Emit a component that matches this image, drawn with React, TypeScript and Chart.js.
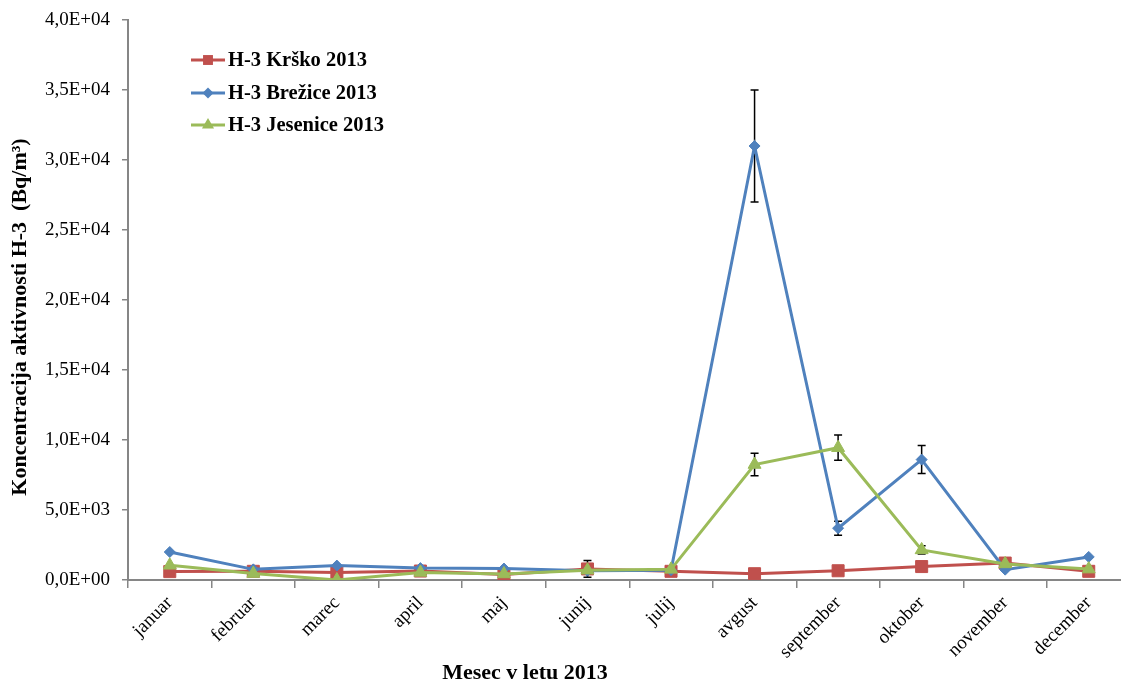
import React, { useEffect, useRef } from "react";
import { Chart, registerables } from "chart.js";

Chart.register(...registerables);

const months = ["januar", "februar", "marec", "april", "maj", "junij", "julij", "avgust", "september", "oktober", "november", "december"];
const krsko = [600, 620, 540, 640, 400, 790, 620, 450, 660, 960, 1210, 620];
const krskoErr = [null, null, null, null, null, 600, null, null, null, null, null, null];
const brezice = [2000, 760, 1030, 850, 820, 660, 700, 31000, 3700, 8600, 740, 1650];
const breziceErr = [null, null, null, null, null, null, null, 4000, 500, 1000, null, null];
const jesenice = [1050, 460, 0, 540, 430, 700, 760, 8250, 9450, 2150, 1150, 780];
const jeseniceErr = [null, null, null, null, null, null, null, 800, 900, 300, null, null];
const seriesNames = ["H-3 Krško 2013", "H-3 Brežice 2013", "H-3 Jesenice 2013"];
const yTitle = "Koncentracija aktivnosti H-3  (Bq/m³)";
const xTitle = "Mesec v letu 2013";

const RED = "#C0504D";
const BLUE = "#4F81BD";
const GREEN = "#9BBB59";
const SERIF = "'Liberation Serif', 'Times New Roman', serif";

function fmtExp(v: number): string {
  if (v === 0) return "0,0E+00";
  const e = Math.floor(Math.log10(Math.abs(v)) + 1e-9);
  const m = v / Math.pow(10, e);
  const es = (e >= 0 ? "+" : "-") + String(Math.abs(e)).padStart(2, "0");
  return m.toFixed(1).replace(".", ",") + "E" + es;
}

function drawMarker(ctx: CanvasRenderingContext2D, style: string, x: number, y: number, r: number, color: string) {
  ctx.save();
  ctx.fillStyle = color;
  ctx.beginPath();
  if (style === "rect") {
    const s = Math.SQRT1_2 * r;
    ctx.rect(x - s, y - s, 2 * s, 2 * s);
  } else if (style === "rectRot") {
    ctx.moveTo(x - r, y);
    ctx.lineTo(x, y - r);
    ctx.lineTo(x + r, y);
    ctx.lineTo(x, y + r);
    ctx.closePath();
  } else {
    const a = (2 * Math.PI) / 3;
    ctx.moveTo(x, y - r);
    ctx.lineTo(x + Math.sin(a) * r, y - Math.cos(a) * r);
    ctx.lineTo(x + Math.sin(2 * a) * r, y - Math.cos(2 * a) * r);
    ctx.closePath();
  }
  ctx.fill();
  ctx.restore();
}

const errorBarPlugin = {
  id: "errorBars",
  beforeDatasetsDraw(chart: any) {
    const ctx = chart.ctx;
    const ys = chart.scales.y;
    chart.data.datasets.forEach((ds: any, i: number) => {
      const errs = ds.errors as (number | null)[];
      if (!errs) return;
      const meta = chart.getDatasetMeta(i);
      meta.data.forEach((pt: any, j: number) => {
        const e = errs[j];
        if (e == null) return;
        const v = ds.data[j];
        const top = ys.getPixelForValue(v + e);
        const bot = ys.getPixelForValue(Math.max(v - e, 0));
        ctx.save();
        ctx.strokeStyle = "#000";
        ctx.lineWidth = 1.5;
        ctx.beginPath();
        ctx.moveTo(pt.x, top);
        ctx.lineTo(pt.x, bot);
        ctx.moveTo(pt.x - 4, top);
        ctx.lineTo(pt.x + 4, top);
        ctx.moveTo(pt.x - 4, bot);
        ctx.lineTo(pt.x + 4, bot);
        ctx.stroke();
        ctx.restore();
      });
    });
  },
};

const decorPlugin = {
  id: "decor",
  afterDraw(chart: any) {
    const ctx = chart.ctx as CanvasRenderingContext2D;
    // legend
    const rows = [60, 93, 125];
    const legendMarkers = [7, 5.5, 7];
    chart.data.datasets.forEach((ds: any, i: number) => {
      const y = rows[i];
      ctx.save();
      ctx.strokeStyle = ds.borderColor;
      ctx.lineWidth = 3;
      ctx.beginPath();
      ctx.moveTo(191, y);
      ctx.lineTo(225, y);
      ctx.stroke();
      ctx.restore();
      drawMarker(ctx, ds.pointStyle, 208, y, legendMarkers[i], ds.borderColor);
      ctx.save();
      ctx.fillStyle = "#000";
      ctx.font = `bold 20.5px ${SERIF}`;
      ctx.textBaseline = "middle";
      ctx.textAlign = "left";
      ctx.fillText(seriesNames[i], 228, y + 1);
      ctx.restore();
    });
    // axis titles
    ctx.save();
    ctx.fillStyle = "#000";
    ctx.font = `bold 22px ${SERIF}`;
    ctx.textAlign = "center";
    ctx.textBaseline = "middle";
    ctx.fillText(xTitle, 525, 673);
    ctx.translate(20, 317);
    ctx.rotate(-Math.PI / 2);
    ctx.fillText(yTitle, 0, 0);
    ctx.restore();
  },
};

export default function App() {
  const ref = useRef<HTMLCanvasElement | null>(null);
  useEffect(() => {
    if (!ref.current) return;
    const common = { borderWidth: 3, pointBorderWidth: 1, tension: 0, fill: false };
    const chart = new Chart(ref.current, {
      type: "line",
      data: {
        labels: months,
        datasets: [
          { ...common, label: seriesNames[0], data: krsko, errors: krskoErr, borderColor: RED, backgroundColor: RED, pointBackgroundColor: RED, pointBorderColor: RED, pointStyle: "rect", pointRadius: 8.5, order: 2 } as any,
          { ...common, label: seriesNames[1], data: brezice, errors: breziceErr, borderColor: BLUE, backgroundColor: BLUE, pointBackgroundColor: BLUE, pointBorderColor: BLUE, pointStyle: "rectRot", pointRadius: 5.5, order: 1 } as any,
          { ...common, label: seriesNames[2], data: jesenice, errors: jeseniceErr, borderColor: GREEN, backgroundColor: GREEN, pointBackgroundColor: GREEN, pointBorderColor: GREEN, pointStyle: "triangle", pointRadius: 7.5, order: 0 } as any,
        ],
      },
      options: {
        animation: false,
        responsive: false,
        maintainAspectRatio: false,
        layout: { padding: { left: 0, right: 6, top: 20, bottom: 0 } },
        plugins: { legend: { display: false }, tooltip: { enabled: false }, title: { display: false } },
        scales: {
          x: {
            offset: true,
            grid: { display: true, drawOnChartArea: false, offset: true, tickLength: 8, color: "#868686", lineWidth: 1.5 },
            border: { display: true, color: "#868686", width: 2 },
            ticks: { color: "#000", font: { family: SERIF, size: 19 }, minRotation: 45, maxRotation: 45, autoSkip: false, padding: 4 },
            afterFit: (s: any) => { s.height = 104; s.paddingLeft = 0; s.paddingRight = 0; },
          },
          y: {
            min: 0,
            max: 40000,
            grid: { display: true, drawOnChartArea: false, tickLength: 6, color: "#868686", lineWidth: 1.5 },
            border: { display: true, color: "#868686", width: 2 },
            ticks: { stepSize: 5000, color: "#000", font: { family: SERIF, size: 19 }, padding: 12, callback: (v: any) => fmtExp(Number(v)) },
            afterFit: (s: any) => { s.width = 128; s.paddingTop = 0; s.paddingBottom = 0; },
          },
        },
      },
      plugins: [errorBarPlugin, decorPlugin],
    });
    return () => chart.destroy();
  }, []);
  return (
    <div style={{ position: "fixed", left: 0, top: 0, width: 1121, height: 684, overflow: "hidden", background: "#fff" }}>
      <canvas ref={ref} width={1140} height={684} style={{ display: "block", width: 1140, height: 684 }} />
    </div>
  );
}
